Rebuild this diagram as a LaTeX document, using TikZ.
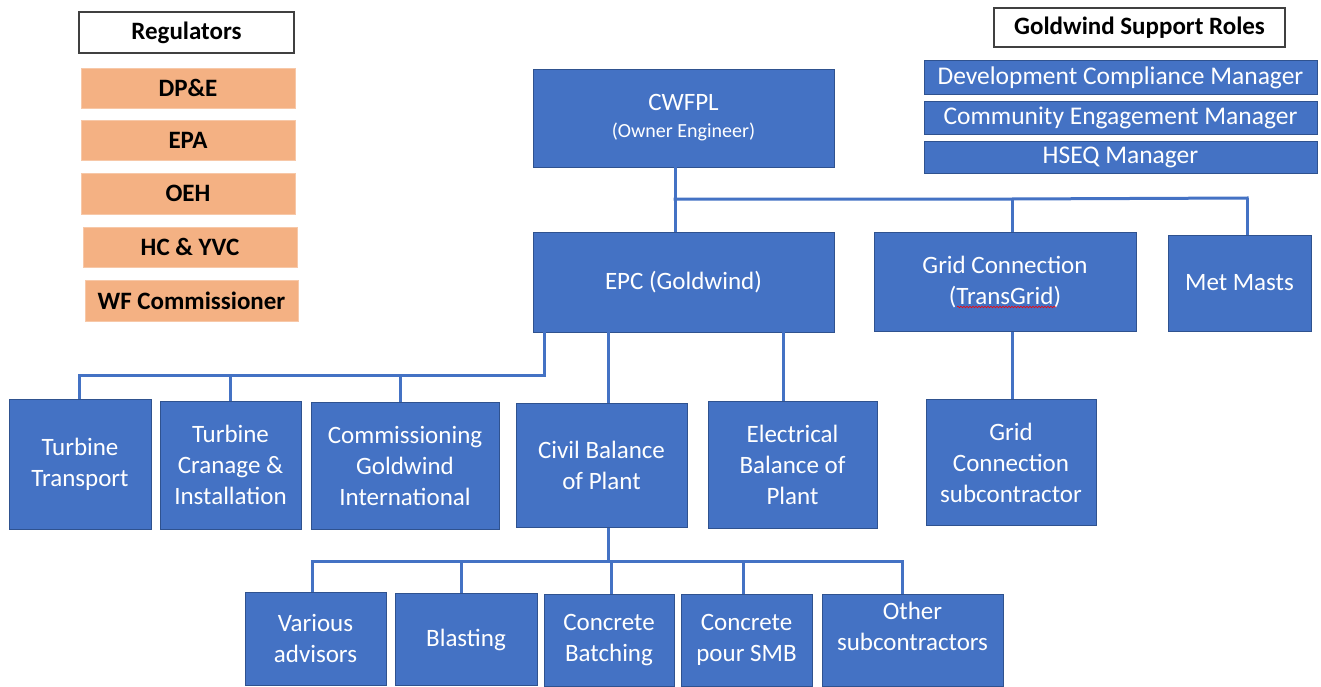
\documentclass[tikz,border=0pt]{standalone}
\usepackage{fontspec}
\setmainfont{Carlito}
\usetikzlibrary{decorations.pathmorphing}
\definecolor{boxblue}{HTML}{4472C4}
\definecolor{boxedge}{HTML}{2F528F}
\definecolor{regorange}{HTML}{F4B183}
\definecolor{lineblue}{HTML}{4472C4}
\begin{document}
\begin{tikzpicture}[x=1pt,y=-1pt,
  bbox/.style={draw=boxedge, line width=0.8pt, fill=boxblue, text=white, align=center,
    font=\fontsize{25}{31}\selectfont, inner sep=0pt},
  obox/.style={fill=regorange, draw=regorange!70!white, line width=0.8pt,
    font=\bfseries\fontsize{25}{30}\selectfont, inner sep=0pt},
  wbox/.style={draw=black!75, line width=1.2pt, fill=white,
    font=\bfseries\fontsize{25}{30}\selectfont, inner sep=0pt},
  sz/.style 2 args={minimum width=#1pt, minimum height=#2pt},
  conn/.style={draw=lineblue, line width=3pt},
  txt/.style={text=white, align=center, font=\fontsize{25}{31}\selectfont, inner sep=0pt}
]
\useasboundingbox (0,0) rectangle (1321,687);

% Regulators
\node[wbox, sz={215}{41}] (reg) at (186.5,32.5) {Regulators};
\node[obox, sz={214}{40}] (dpe) at (188,88) {DP\&E};
\node[obox, sz={214}{40}] (epa) at (188,140) {EPA};
\node[obox, sz={214}{41}] (oeh) at (188,193.5) {OEH};
\node[obox, sz={214}{40}] (hc) at (190,247) {HC \& YVC};
\node[obox, sz={213}{41}] (wf) at (191.5,300.5) {WF Commissioner};

% Goldwind support roles
\node[wbox, sz={291}{39}] (gsr) at (1139.5,27.5) {Goldwind Support Roles};
\node[bbox, sz={393}{34}, font=\fontsize{25.5}{31}\selectfont] (dcm) at (1120.5,77.5) {Development Compliance Manager};
\node[bbox, sz={393}{33}, font=\fontsize{25.5}{31}\selectfont] (cem) at (1120.5,118) {Community Engagement Manager};
\node[bbox, sz={393}{32}, font=\fontsize{25.5}{31}\selectfont] (hseq) at (1120.5,157.5) {HSEQ Manager};

% Main hierarchy
\node[bbox, sz={301}{98}] (cwfpl) at (683.5,118) {CWFPL\\[-4pt]{\fontsize{20}{24}\selectfont (Owner Engineer)}};
\node[bbox, sz={301}{100}] (epc) at (683.5,282) {EPC (Goldwind)};
\node[bbox, sz={262}{99}] (grid) at (1005,282) {Grid Connection\\(TransGrid)};
\node[bbox, sz={143}{96}] (met) at (1239.5,283) {Met Masts};

\node[bbox, sz={142}{130}] (tt) at (80,464.5) {Turbine\\Transport};
\node[bbox, sz={141}{128}] (tc) at (230.5,465) {Turbine\\Cranage \&\\Installation};
\node[bbox, sz={188}{127}] (com) at (405,465.5) {Commissioning\\Goldwind\\International};
\node[bbox, sz={171}{124}] (civ) at (601.5,465.5) {Civil Balance\\of Plant};
\node[bbox, sz={169}{127}] (ele) at (792.5,464.5) {Electrical\\Balance of\\Plant};
\node[bbox, sz={170}{126}] (gcs) at (1011,462.5) {Grid\\Connection\\subcontractor};

\node[bbox, sz={141}{93}] (va) at (315.5,638.5) {Various\\advisors};
\node[bbox, sz={142}{92}] (bl) at (466,639.5) {Blasting};
\node[bbox, sz={130}{92}] (cb) at (609,640) {Concrete\\Batching};
\node[bbox, sz={131}{92}] (cp) at (746.5,640) {Concrete\\pour SMB};
\node[bbox, sz={181}{92}] (oth) at (912.5,640.5) {};
\node[txt] (othtxt) at (912.5,626) {Other\\subcontractors};

% spell-check underline
\draw[red, line width=0.6pt, decorate, decoration={snake, amplitude=0.8pt, segment length=3pt}]
  (957,307) -- (1056,307);

% bus coordinates
\coordinate (b1l) at (675,199);
\coordinate (b1g) at (1012,199);
\coordinate (b1r) at (1247,198);
\coordinate (b2r) at (544,375);
\coordinate (b2a) at (79,375);
\coordinate (b2b) at (230,375);
\coordinate (b2c) at (400,375);
\coordinate (b3m) at (608,561);
\coordinate (b3a) at (312,561);
\coordinate (b3b) at (461,561);
\coordinate (b3c) at (611,561);
\coordinate (b3d) at (743,561);
\coordinate (b3e) at (902,561);

% connectors level 1
\draw[conn] (cwfpl.south -| b1l) -- (epc.north -| b1l);
\draw[conn, line cap=rect] (b1l) -- (b1g) -- (b1r);
\draw[conn] (b1g) -- (grid.north -| b1g);
\draw[conn] (b1r) -- (met.north -| b1r);

% connectors level 2
\draw[conn] (epc.south -| b2r) -- (b2r);
\draw[conn, line cap=rect] (b2r) -- (b2a);
\draw[conn] (b2a) -- (tt.north -| b2a);
\draw[conn] (b2b) -- (tc.north -| b2b);
\draw[conn] (b2c) -- (com.north -| b2c);
\draw[conn] (epc.south -| b3m) -- (civ.north -| b3m);
\draw[conn] (epc.south -| 783,0) -- (ele.north -| 783,0);
\draw[conn] (grid.south -| b1g) -- (gcs.north -| b1g);

% connectors level 3
\draw[conn] (civ.south -| b3m) -- (b3m);
\draw[conn, line cap=rect] (b3a) -- (b3e);
\draw[conn] (b3a) -- (va.north -| b3a);
\draw[conn] (b3b) -- (bl.north -| b3b);
\draw[conn] (b3c) -- (cb.north -| b3c);
\draw[conn] (b3d) -- (cp.north -| b3d);
\draw[conn] (b3e) -- (oth.north -| b3e);
\end{tikzpicture}
\end{document}
